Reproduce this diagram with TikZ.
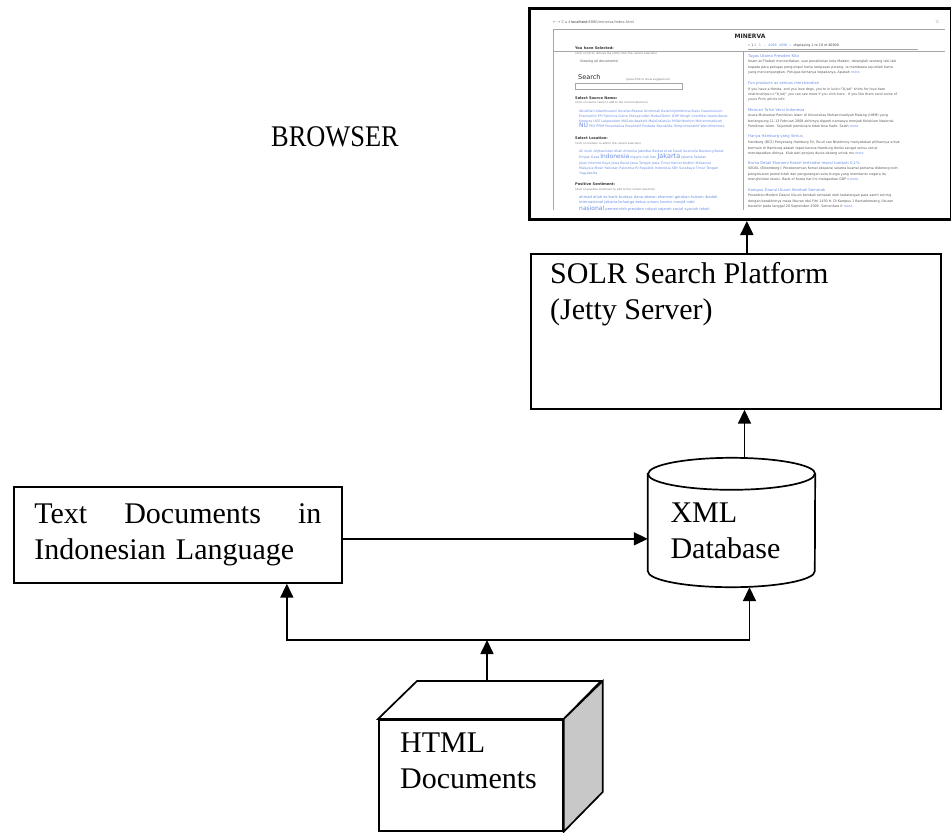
\documentclass[tikz,border=0pt]{standalone}
\usepackage{fontspec}
\setmainfont{Liberation Serif}
\newfontfamily\webfont{DejaVu Sans}
\usetikzlibrary{arrows.meta}

\definecolor{linkblue}{RGB}{105,140,225}
\definecolor{webgray}{RGB}{85,85,85}
\definecolor{sidegray}{RGB}{200,200,200}

\begin{document}
\begin{tikzpicture}[x=1pt, y=-1pt,
  docbox/.style={draw, line width=1.7pt, fill=white, font=\fontsize{30}{36}\selectfont},
  txtlabel/.style={anchor=north west, inner sep=0pt, align=left, font=\fontsize{30}{36}\selectfont},
  boxline/.style={line width=1.7pt},
  rim/.style={x radius=83.5pt, y radius=16pt},
  flow/.style={-{Triangle[length=14pt,width=13pt]}, line width=1.7pt},
  webtxt/.style={anchor=north west, inner sep=0pt, align=left, text=webgray,
    font=\webfont\fontsize{3.3}{5.3}\selectfont},
  webnote/.style={webtxt, anchor=west, text=black!55, font=\webfont\fontsize{2.7}{3}\selectfont},
  webhead/.style={webtxt, anchor=west, text=black!80, font=\webfont\bfseries\fontsize{3.6}{4}\selectfont},
  weblink/.style={webtxt, anchor=west, text=linkblue, font=\webfont\fontsize{3.8}{4.5}\selectfont},
  webcloud/.style={webtxt, text=linkblue, font=\webfont\fontsize{3.3}{5.2}\selectfont},
  webline/.style={draw=black!35, line width=0.5pt}
]
\useasboundingbox (0,0) rectangle (951,833);

% browser screenshot
\node[draw, line width=3pt, anchor=north west, minimum width=422pt, minimum height=211pt, inner sep=0pt] (shot) at (528,7) {};
\begin{scope}
\clip (553,14) rectangle (946,210);
\draw[webline] (553,29) -- (945,29);
\draw[webline] (553,29) -- (553,210);
\draw[webline] (553,51) -- (945,51);
\draw[webline] (743,51) -- (743,210);
\draw[webline] (748,49) -- (918,49);
\draw[webline] (575,83) rectangle (682,89);
\node[webtxt, anchor=west, font=\webfont\fontsize{3.6}{4}\selectfont, text=black!60] (url) at (553,22)
  {← → C ⌂ ℹ {\color{black!85}localhost}:8080/minerva/index.html};
\node[webtxt, anchor=west, font=\webfont\fontsize{5}{5}\selectfont, text=black!60] (star) at (935,22) {☆};
\node[webtxt, anchor=center, text=black!85, font=\webfont\bfseries\fontsize{6}{6}\selectfont] (title) at (750,36) {MINERVA};
\node[webtxt, anchor=west, text=black!75] (pages) at (748,46)
  {« 1 {\color{linkblue}2 \ 3 \ ... \ 4089 \ 4090 \ »} \ displaying 1 to 10 of 40900};
% left column
\node[webhead] (selected) at (575,48) {You have Selected:};
\node[webnote] (clickx) at (575,54) {(click on [X] to remove the entity from the current selection)};
\node[webtxt, anchor=west] (viewing) at (580,62) {Viewing all documents!};
\node[webtxt, anchor=west, text=black!85, font=\webfont\fontsize{6.5}{7}\selectfont] (search) at (578,77) {Search};
\node[webnote] (esc) at (626,80) {(press ESC to show suggestions)};
\node[webhead] (source) at (575,98) {Select Source Name:};
\node[webnote] (sourcenote) at (575,103) {(click on source name to add to the current selection)};
\node[webcloud] (sourcecloud) at (579,109.5) {Abubillah Adamhusaini AmahanPaswal Arrahmah BalamilyAmbtona Banu Daarululuum\\
  Eramuslim FPI Fahmina Gatra Hidayatullah HizbutTahrir ICRP Iblogh Interfidei IslamLiberal\\
  Kompas LKiS Lakpesdam MASabulwadahi MajelisKatulis MillahIbrahim Muhammadiyah\\
  {\fontsize{6}{6}\selectfont NU} PKS PPIM Pesantalina Pesantalif Pesbata Republika TempoInteraktif WahidInstitute};
\node[webhead] (location) at (575,138) {Select Location:};
\node[webnote] (locnote) at (575,144) {(click on location to add to the current selection)};
\node[webcloud] (loccloud) at (579,149.5) {All Aceh Afghanistan Allah Amerika Jabodka Barkat Arab Saudi Australia Bandung Barat\\
  Empat Gaza {\fontsize{6}{6}\selectfont Indonesia} Inggris Irak Iran {\fontsize{6.5}{6}\selectfont Jakarta} Jakarta Selatan\\
  Jalan Internet Kaya Jawa Barat Jawa Tengah Jawa Timur Kantor Kedhiri Makassar\\
  Malaysia Mesir Pakistan Palestina RI Republik Indonesia SBY Surabaya Timur Tengah\\
  Yogyakarta};
\node[webhead] (positive) at (575,184) {Positive Sentiment:};
\node[webnote] (posnote) at (575,190) {(click on positive sentiment to add to the current selection)};
\node[webcloud, font=\webfont\fontsize{3.7}{5.2}\selectfont] (poscloud) at (579,195.5) {ahmad allah as bank budaya dana dewan ekonomi gerakan hukum ibadah\\
  internasional jakarta keluarga ketua umum komisi masjid nabi\\
  {\fontsize{6}{6}\selectfont nasional} pemerintah presiden rakyat sejarah sosial syariah tokoh};
% right column
\node[weblink] (news1) at (748,56) {Tugas Utama Presiden Kita};
\node[webtxt] (text1) at (748,60) {Imam at-Thabari menceritakan, usai penaklukan kota Madain, datanglah seorang laki-laki\\
  kepada para petugas pengumpul harta rampasan perang. Ia membawa sejumlah harta\\
  yang mencengangkan. Petugas bertanya kepadanya, Apakah {\color{linkblue}more}};
\node[weblink] (news2) at (748,83) {Fun products as serious merchandise};
\node[webtxt] (text2) at (748,87.5) {If you have a Honda, and you love dogs, you're in luck="3(/at)" shirts for love-hate\\
  relationships=="3(/at)" you can see more if you click here . If you like them send some of\\
  yours Print article info};
\node[weblink] (news3) at (748,110) {Mencari Tafsir Versi Indonesia};
\node[webtxt] (text3) at (748,114) {Acara Muktamar Pemikiran Islam di Universitas Muhammadiyah Malang (UMM) yang\\
  berlangsung 11-13 Februari 2008 akhirnya diganti namanya menjadi Kolokium Nasional\\
  Pemikiran Islam. Sejumlah pembicara tidak bisa hadir. Salah {\color{linkblue}more}};
\node[weblink] (news4) at (748,136) {Hanya Hamburg yang Serius};
\node[webtxt] (text4) at (748,141) {Hamburg (BCZ) Penyerang Hamburg SV, Ruud van Nistelrooy menyatakan pilihannya untuk\\
  bermain di Hamburg adalah tepat karena Hamburg dinilai sangat serius untuk\\
  mendapatkan dirinya. Klub dari penjuru dunia datang untuk mu {\color{linkblue}more}};
\node[weblink] (news5) at (748,163) {Bursa Detail Ekonomi Korsel terhindar resesi tumbuh 0,1\%};
\node[webtxt] (text5) at (748,167) {SEOUL (Bloomberg): Perekonomian Korsel ekspansi selama kuartal pertama didorong oleh\\
  pengeluaran pemerintah dan pengurangan suku bunga yang membantu negara itu\\
  menghindari resesi. Bank of Korea hari ini melaporkan GDP t {\color{linkblue}more}};
\node[weblink] (news6) at (748,190) {Kampus Daarul Uluum Kembali Semarak};
\node[webtxt] (text6) at (748,194) {Pesantren Modern Daarul Uluum kembali semarak oleh kedatangan para santri seiring\\
  dengan berakhirnya masa liburan Idul Fitri 1430 H. Di Kampus 1 Bantarkemang, liburan\\
  berakhir pada tanggal 28 September 2009. Sementara it {\color{linkblue}more}};
\end{scope}

\node[font=\fontsize{30}{36}\selectfont, inner sep=0pt] (browser) at (335,137) {\scalebox{0.88}[1]{BROWSER}};

% platform, database and documents
\node[docbox, anchor=north west, minimum width=410pt, minimum height=155pt, inner sep=0pt,
  label={[txtlabel, xshift=20pt, yshift=-9pt]north west:{SOLR Search Platform\\(Jetty Server)}}] (solr) at (530,253) {};
\node[inner sep=0pt, minimum width=167pt, minimum height=129pt,
  label={[txtlabel, anchor=center, xshift=-6pt, yshift=-8pt]center:{XML\\Database}}] (db) at (731.5,522.5) {};
\draw[boxline] ([yshift=-16pt]db.north west) -- ([yshift=16pt]db.south west) arc[start angle=180, end angle=360, rim]
  -- ([yshift=-16pt]db.north east) arc[start angle=0, end angle=180, rim] -- cycle;
\draw[boxline] ([yshift=-16pt]db.north west) arc[start angle=180, end angle=360, rim];
\node[docbox, anchor=north west, minimum width=328pt, minimum height=96pt, text width=287pt,
  inner xsep=20.5pt, align=left] (text) at (13,486) {Text\hfill Documents\hfill in\\Indonesian Language};
\node[docbox, anchor=north west, minimum width=184pt, minimum height=111pt, inner sep=0pt,
  label={[txtlabel, xshift=22pt, yshift=-14pt]north west:{HTML\\Documents}}] (html) at (378,719) {};
\draw[boxline, fill=white] (html.north west) -- ++(39,-38) -- ++(184,0) -- (html.north east) -- cycle;
\draw[boxline, fill=sidegray] (html.north east) -- ++(39,-38) -- ++(0,111) -- (html.south east) -- cycle;

\coordinate (split) at (487,640);
\draw[flow] ([xshift=109pt,yshift=38pt]html.north west) -- (split);
\draw[flow] (split) -| ([xshift=109pt]text.south);
\draw[flow] (split) -| ([xshift=18pt]db.south);
\draw[flow] ([yshift=-4pt]text.east) -- ([yshift=-4pt]text.east -| db.west);
\draw[flow] ([xshift=13pt]db.north) -- ([xshift=13pt]db.north |- solr.south);
\draw[flow] ([xshift=11pt]solr.north) -- ([xshift=11pt]solr.north |- shot.south);
\end{tikzpicture}
\end{document}
